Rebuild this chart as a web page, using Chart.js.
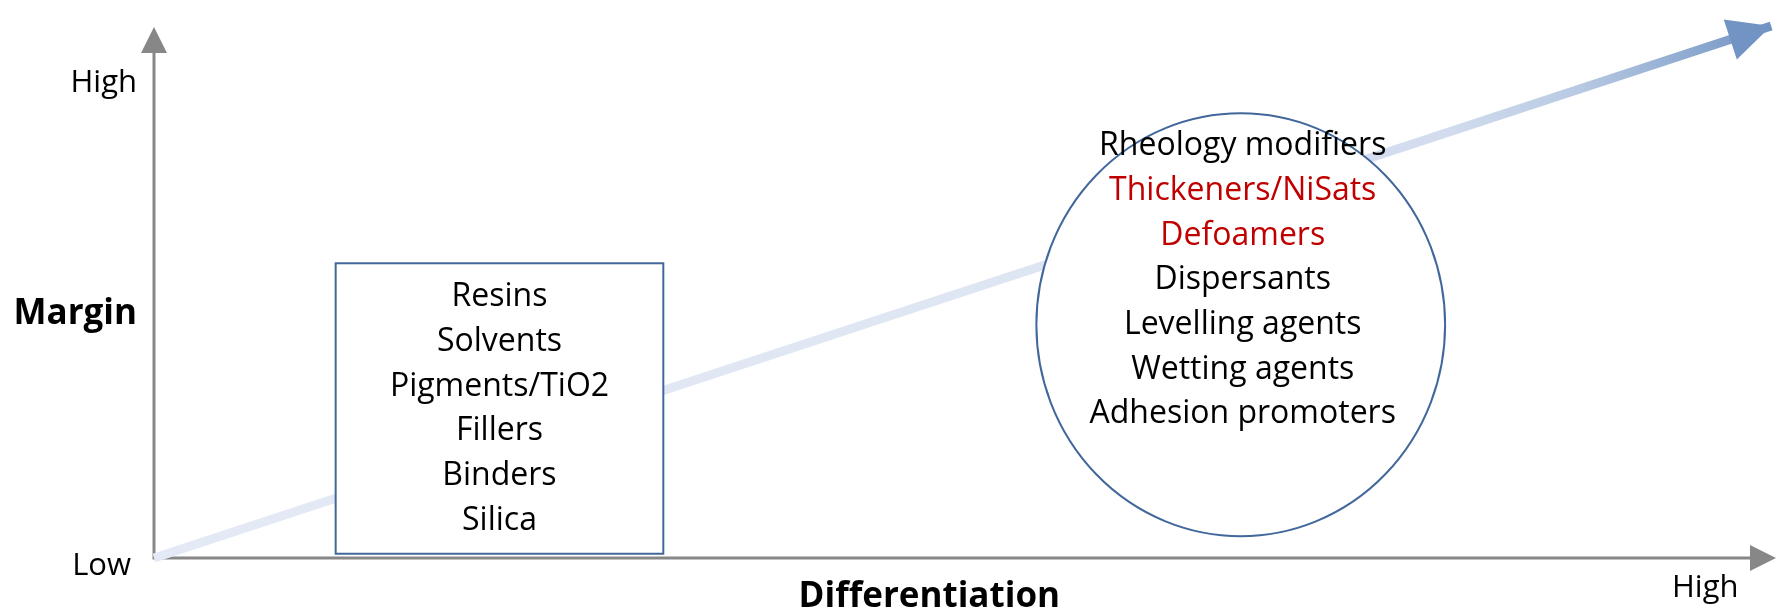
<!DOCTYPE html>
<html>
<head>
<meta charset="utf-8">
<script src="https://cdn.jsdelivr.net/npm/chart.js@4/dist/chart.umd.min.js"></script>
<style>
  html, body { margin: 0; padding: 0; background: #ffffff; }
  #wrap { width: 1781px; height: 616px; }
</style>
</head>
<body>
<div id="wrap"><canvas id="map" width="1781" height="616"></canvas></div>
<script>
// Axis wording
const xAxisTitle = 'Differentiation';
const yAxisTitle = 'Margin';
const axisLow = 'Low';
const axisHigh = 'High';

// Product groups
const commodityItems = ['Resins', 'Solvents', 'Pigments/TiO2', 'Fillers', 'Binders', 'Silica'];
const specialtyItems = ['Rheology modifiers', 'Thickeners/NiSats', 'Defoamers', 'Dispersants',
                        'Levelling agents', 'Wetting agents', 'Adhesion promoters'];
const highlightedItems = ['Thickeners/NiSats', 'Defoamers'];

// Where each group sits on the differentiation (x) / margin (y) plane, 0–100
const commodityX = [11.2, 31.4];
const commodityY = [0.8, 55.4];
const specialtyX = [54.4, 79.6];
const specialtyY = [4.1, 83.6];

// Trend from low/low to high/high
const trendX = [0, 99.7];
const trendY = [0, 100];

const FONT = '"Open Sans", "Noto Sans", sans-serif';
const AXIS_GREY = '#878787';
const SHAPE_BLUE = '#41679b';
const RED = '#c00000';

function trendGradient(chart) {
  const { ctx, scales } = chart;
  const x0 = scales.x.getPixelForValue(trendX[0]);
  const y0 = scales.y.getPixelForValue(trendY[0]);
  const x1 = scales.x.getPixelForValue(trendX[1]);
  const y1 = scales.y.getPixelForValue(trendY[1]);
  const g = ctx.createLinearGradient(x0, y0, x1, y1);
  g.addColorStop(0, '#e4eaf5');
  g.addColorStop(0.5, '#dfe6f3');
  g.addColorStop(0.8, '#d2dcee');
  g.addColorStop(0.88, '#b8cae3');
  g.addColorStop(1, '#7093c3');
  return g;
}

const diagramPlugin = {
  id: 'diagram',
  beforeDatasetsDraw(chart) {
    // axes with arrowheads
    const { ctx, chartArea: a, scales } = chart;
    const ox = scales.x.getPixelForValue(0);
    const oy = scales.y.getPixelForValue(0);
    const head = 26, half = 13;
    ctx.save();
    ctx.strokeStyle = AXIS_GREY;
    ctx.fillStyle = AXIS_GREY;
    ctx.lineWidth = 3;
    ctx.beginPath();
    ctx.moveTo(ox, a.top + head);
    ctx.lineTo(ox, oy);
    ctx.lineTo(a.right - head, oy);
    ctx.stroke();
    ctx.beginPath();
    ctx.moveTo(ox, a.top + 1);
    ctx.lineTo(ox - half, a.top + head + 1);
    ctx.lineTo(ox + half, a.top + head + 1);
    ctx.closePath();
    ctx.fill();
    ctx.beginPath();
    ctx.moveTo(a.right, oy);
    ctx.lineTo(a.right - head, oy - half);
    ctx.lineTo(a.right - head, oy + half);
    ctx.closePath();
    ctx.fill();
    ctx.restore();
  },
  afterDatasetsDraw(chart) {
    const { ctx, chartArea: a, scales } = chart;
    const sx = scales.x, sy = scales.y;

    // arrowhead on the trend line
    const tx = sx.getPixelForValue(trendX[1]);
    const ty = sy.getPixelForValue(trendY[1]);
    const fx = sx.getPixelForValue(trendX[0]);
    const fy = sy.getPixelForValue(trendY[0]);
    const ang = Math.atan2(ty - fy, tx - fx);
    const len = 43, hw = 21;
    const bx = tx - len * Math.cos(ang), by = ty - len * Math.sin(ang);
    ctx.save();
    ctx.fillStyle = '#7294c4';
    ctx.beginPath();
    ctx.moveTo(tx, ty);
    ctx.lineTo(bx - hw * Math.sin(ang), by + hw * Math.cos(ang));
    ctx.lineTo(bx + hw * Math.sin(ang), by - hw * Math.cos(ang));
    ctx.closePath();
    ctx.fill();
    ctx.restore();

    const lineH = 44.7, firstOffset = 43;
    ctx.save();
    ctx.textAlign = 'center';
    ctx.textBaseline = 'alphabetic';
    ctx.font = '32px ' + FONT;

    // commodity box
    const l = sx.getPixelForValue(commodityX[0]);
    const r = sx.getPixelForValue(commodityX[1]);
    const t = sy.getPixelForValue(commodityY[1]);
    const b = sy.getPixelForValue(commodityY[0]);
    ctx.fillStyle = '#ffffff';
    ctx.fillRect(l, t, r - l, b - t);
    ctx.strokeStyle = SHAPE_BLUE;
    ctx.lineWidth = 2;
    ctx.strokeRect(l, t, r - l, b - t);
    ctx.fillStyle = '#000000';
    commodityItems.forEach((s, i) => ctx.fillText(s, (l + r) / 2, t + firstOffset + i * lineH));

    // specialty ellipse
    const el = sx.getPixelForValue(specialtyX[0]);
    const er = sx.getPixelForValue(specialtyX[1]);
    const et = sy.getPixelForValue(specialtyY[1]);
    const eb = sy.getPixelForValue(specialtyY[0]);
    const cx = (el + er) / 2, cy = (et + eb) / 2;
    ctx.beginPath();
    ctx.ellipse(cx, cy, (er - el) / 2, (eb - et) / 2, 0, 0, Math.PI * 2);
    ctx.fillStyle = '#ffffff';
    ctx.fill();
    ctx.strokeStyle = SHAPE_BLUE;
    ctx.lineWidth = 2;
    ctx.stroke();
    specialtyItems.forEach((s, i) => {
      ctx.fillStyle = highlightedItems.includes(s) ? RED : '#000000';
      ctx.fillText(s, cx + 2, et + firstOffset - 1 + i * lineH);
    });

    // axis labels
    const ox = sx.getPixelForValue(0);
    const oy = sy.getPixelForValue(0);
    ctx.fillStyle = '#000000';
    ctx.font = '31px ' + FONT;
    ctx.textAlign = 'right';
    ctx.fillText(axisHigh, ox - 17, a.top + 66);
    ctx.fillText(axisLow, ox - 23, oy + 17);
    ctx.textAlign = 'left';
    ctx.fillText(axisHigh, a.right - 104, oy + 39);
    ctx.font = 'bold 35px ' + FONT;
    ctx.textAlign = 'right';
    ctx.fillText(yAxisTitle, ox - 17, sy.getPixelForValue(44));
    ctx.textAlign = 'center';
    ctx.fillText(xAxisTitle, sx.getPixelForValue(47.8), oy + 49);
    ctx.restore();
  }
};

new Chart(document.getElementById('map'), {
  type: 'line',
  data: {
    datasets: [{
      data: trendX.map((x, i) => ({ x, y: trendY[i] })),
      borderColor: (c) => c.chart.chartArea ? trendGradient(c.chart) : '#dfe6f3',
      borderWidth: 9,
      borderCapStyle: 'butt',
      pointRadius: 0,
      tension: 0,
      clip: false
    }]
  },
  options: {
    responsive: false,
    devicePixelRatio: 1,
    animation: false,
    events: [],
    layout: { padding: { left: 154, right: 5, top: 26, bottom: 58 } },
    scales: {
      x: { type: 'linear', min: 0, max: 100, display: false },
      y: { type: 'linear', min: 0, max: 100, display: false }
    },
    plugins: { legend: { display: false }, tooltip: { enabled: false } }
  },
  plugins: [diagramPlugin]
});
</script>
</body>
</html>
